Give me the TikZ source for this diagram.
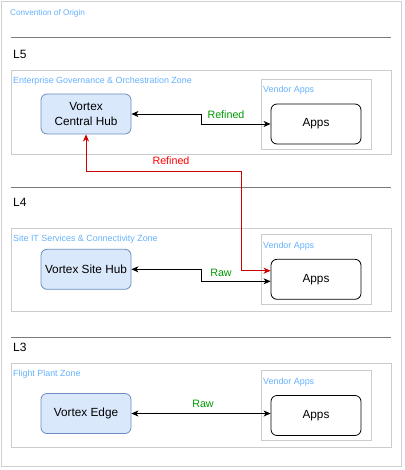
\documentclass[tikz,border=0pt]{standalone}
\usepackage{fontspec}
\setmainfont{Liberation Sans}
\usetikzlibrary{arrows.meta}
\definecolor{zonetxt}{HTML}{66B2FF}
\definecolor{framegray}{HTML}{D0D0D0}
\definecolor{zonegray}{HTML}{CCCCCC}
\definecolor{sepgray}{HTML}{7A7A7A}
\definecolor{hubfill}{HTML}{DAE8FC}
\definecolor{hubdraw}{HTML}{6C8EBF}
\definecolor{lblgreen}{HTML}{009900}
\definecolor{redline}{HTML}{CC0000}
\definecolor{redtxt}{HTML}{FF0000}
\tikzset{
  px/.style={x=1pt,y=-1pt},
  titlelabel/.style={anchor=west,inner sep=0pt,text=zonetxt,font=\fontsize{8.2}{9}\selectfont},
  zonelabel/.style={anchor=west,inner sep=0pt,text=zonetxt,font=\fontsize{8.9}{10}\selectfont},
  levellabel/.style={anchor=west,inner sep=0pt,font=\fontsize{12}{14}\selectfont},
  zonebox/.style={draw=zonegray,line width=0.9pt},
  sepline/.style={draw=sepgray,line width=0.9pt},
  hub/.style={draw=hubdraw,fill=hubfill,rounded corners=6pt,minimum width=90pt,minimum height=40pt,inner sep=0pt,align=center,font=\fontsize{11.8}{14}\selectfont,line width=0.8pt},
  appbox/.style={draw=black,fill=white,rounded corners=6pt,minimum width=90pt,minimum height=40pt,inner sep=0pt,font=\fontsize{11.8}{14}\selectfont,line width=0.8pt},
  flow/.style={draw=black,line width=0.9pt,{Stealth[length=7pt,width=6pt,inset=2pt]}-{Stealth[length=7pt,width=6pt,inset=2pt]}},
  redflow/.style={draw=redline,line width=0.9pt,{Stealth[length=7pt,width=6pt,inset=2pt]}-{Stealth[length=7pt,width=6pt,inset=2pt]}},
  greenlbl/.style={text=lblgreen,inner sep=0pt,font=\fontsize{10.7}{12}\selectfont},
  redlbl/.style={text=redtxt,inner sep=0pt,font=\fontsize{10.7}{12}\selectfont},
}
\begin{document}
\begin{tikzpicture}[px]
\useasboundingbox (0,0) rectangle (404,470);
\fill[white] (0,0) rectangle (404,470);
% outer frame
\draw[draw=framegray,line width=0.9pt] (1.5,1.5) rectangle (401,466);
\node[titlelabel] (title) at (10,13) {Convention of Origin};

% L5
\draw[sepline] (11,37.5) -- (391,37.5);
\node[levellabel] (l5) at (13,54) {L5};
\draw[zonebox] (11,70.5) rectangle (391,154);
\node[zonelabel] (z5) at (13,81) {Enterprise Governance \& Orchestration Zone};
\draw[zonebox] (261,79.5) rectangle (371,149);
\node[zonelabel] (v5) at (263,90) {Vendor Apps};
\node[hub] (hub5) at (86,114) {Vortex\\Central Hub};
\node[appbox] (app5) at (316,124) {Apps};

% L4
\draw[sepline] (11,187.5) -- (391,187.5);
\node[levellabel] (l4) at (13,202) {L4};
\draw[zonebox] (11,228) rectangle (391,311.5);
\node[zonelabel] (z4) at (13,239) {Site IT Services \& Connectivity Zone};
\draw[zonebox] (261,234.5) rectangle (371,304.5);
\node[zonelabel] (v4) at (263,246) {Vendor Apps};
\node[hub] (hub4) at (86,269.3) {Vortex Site Hub};
\node[appbox] (app4) at (316,279.3) {Apps};

% L3
\draw[sepline] (11,337.5) -- (391,337.5);
\node[levellabel] (l3) at (13,347) {L3};
\draw[zonebox] (11,363.5) rectangle (391,447);
\node[zonelabel] (z3) at (13,374) {Flight Plant Zone};
\draw[zonebox] (261,370.5) rectangle (371,440.5);
\node[zonelabel] (v3) at (263,382) {Vendor Apps};
\node[hub] (hub3) at (86,413.5) {Vortex Edge};
\node[appbox] (app3) at (316,415.5) {Apps};

% connectors
\draw[flow] (hub5.east) -- (201,114) -- (201,124) -- (app5.west);
\node[greenlbl] (r5) at (226,115) {Refined};

\draw[redflow] (hub5.south) -- (86,171) -- (241,171) -- (241,270.7) -- (app4.west |- 0,270.7);
\node[redlbl] (rr) at (171,161) {Refined};

\draw[flow] (hub4.east) -- (201,269.3) -- (201,281.3) -- (app4.west |- 0,281.3);
\node[greenlbl] (r4) at (221,273) {Raw};

\draw[flow] (hub3.east) -- (app3.west |- hub3.east);
\node[greenlbl] (r3) at (203,404) {Raw};
\end{tikzpicture}
\end{document}
